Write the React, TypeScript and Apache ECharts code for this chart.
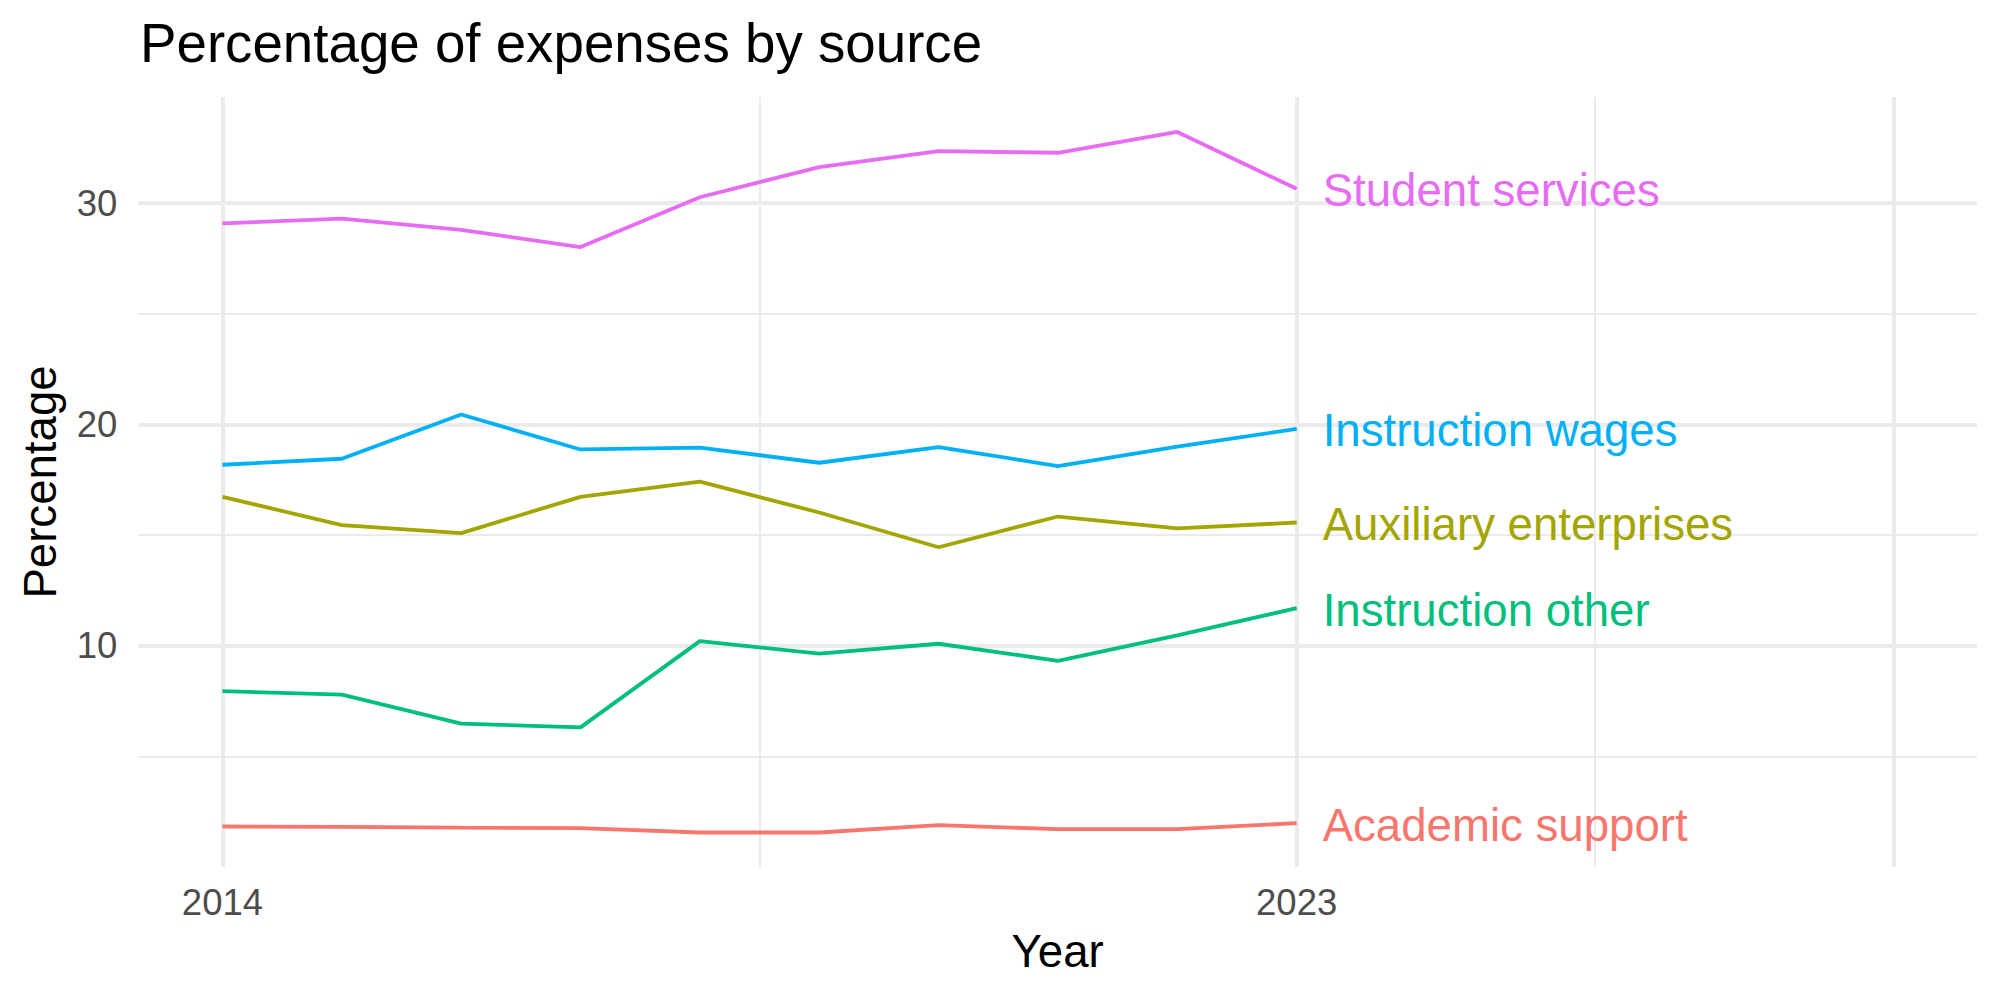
import React, { useEffect, useRef } from "react";
import * as echarts from "echarts";

const years = [2014, 2015, 2016, 2017, 2018, 2019, 2020, 2021, 2022, 2023];
const academicSupport = [1.83, 1.81, 1.78, 1.76, 1.56, 1.56, 1.89, 1.71, 1.71, 1.98];
const auxiliaryEnterprises = [16.73, 15.45, 15.09, 16.73, 17.42, 16.02, 14.45, 15.84, 15.3, 15.57];
const instructionOther = [7.95, 7.79, 6.48, 6.31, 10.21, 9.64, 10.09, 9.32, 10.47, 11.7];
const instructionWages = [18.18, 18.45, 20.45, 18.87, 18.95, 18.27, 18.98, 18.12, 19.0, 19.8];
const studentServices = [29.09, 29.3, 28.79, 28.02, 30.27, 31.63, 32.35, 32.28, 33.22, 30.65];

const seriesNames = ["Academic support", "Auxiliary enterprises", "Instruction other", "Instruction wages", "Student services"];
const seriesValues = [academicSupport, auxiliaryEnterprises, instructionOther, instructionWages, studentServices];
const seriesColors = ["#F8766D", "#A3A500", "#00BF7D", "#00B0F6", "#E76BF3"];

const xTickLabels = [2014, 2023];
const yTickLabels = [10, 20, 30];
const xMajorGrid = [2014, 2023, 2028];
const xMinorGrid = [2018.5, 2025.5];
const yMajorGrid = [10, 20, 30];
const yMinorGrid = [5, 15, 25];

const FONT = "Liberation Sans, Arial, Helvetica, sans-serif";

export default function App() {
  const ref = useRef<HTMLDivElement>(null);
  useEffect(() => {
    if (!ref.current) return;
    const chart = echarts.init(ref.current, null, { renderer: "svg" });
    const gridColor = "#EBEBEB";
    const gridLines: any[] = [];
    xMinorGrid.forEach((v) => gridLines.push({ xAxis: v, lineStyle: { width: 2, color: gridColor, type: "solid" } }));
    yMinorGrid.forEach((v) => gridLines.push({ yAxis: v, lineStyle: { width: 2, color: gridColor, type: "solid" } }));
    xMajorGrid.forEach((v) => gridLines.push({ xAxis: v, lineStyle: { width: 4, color: gridColor, type: "solid" } }));
    yMajorGrid.forEach((v) => gridLines.push({ yAxis: v, lineStyle: { width: 4, color: gridColor, type: "solid" } }));

    const series: any[] = [
      {
        type: "line",
        name: "grid",
        data: [],
        z: 0,
        silent: true,
        markLine: {
          z: 0,
          silent: true,
          symbol: ["none", "none"],
          label: { show: false },
          animation: false,
          data: gridLines,
        },
      },
    ];
    seriesNames.forEach((name, i) => {
      series.push({
        type: "line",
        name,
        z: 3,
        data: years.map((y, j) => [y, seriesValues[i][j]]),
        showSymbol: false,
        symbol: "none",
        lineStyle: { color: seriesColors[i], width: 3.8 },
        itemStyle: { color: seriesColors[i] },
        endLabel: {
          show: true,
          formatter: "{a}",
          color: seriesColors[i],
          fontSize: 45.6,
          fontFamily: FONT,
          distance: 26,
          offset: [0, 2],
        },
      });
    });

    chart.setOption({
      animation: false,
      backgroundColor: "#ffffff",
      title: {
        text: "Percentage of expenses by source",
        left: 140,
        top: 15,
        padding: 0,
        textStyle: { fontSize: 54.7, fontWeight: "normal", color: "#000000", fontFamily: FONT },
      },
      grid: { left: 138.3, right: 23, top: 97, bottom: 133, containLabel: false },
      xAxis: {
        type: "value",
        min: 2013.295,
        max: 2028.7,
        name: "Year",
        nameLocation: "middle",
        nameGap: 61,
        nameTextStyle: { fontSize: 45.6, color: "#000000", fontFamily: FONT },
        axisLine: { show: false },
        axisTick: { show: false },
        splitLine: { show: false },
        axisLabel: {
          customValues: xTickLabels,
          formatter: (v: number) => String(v),
          fontSize: 36.5,
          color: "#4D4D4D",
          fontFamily: FONT,
          margin: 17,
        },
      },
      yAxis: {
        type: "value",
        min: 0,
        max: 34.8,
        interval: 5,
        name: "Percentage",
        nameLocation: "middle",
        nameGap: 75,
        nameTextStyle: { fontSize: 45.6, color: "#000000", fontFamily: FONT },
        axisLine: { show: false },
        axisTick: { show: false },
        splitLine: { show: false },
        axisLabel: {
          formatter: (v: number) => (yTickLabels.includes(v) ? String(v) : ""),
          fontSize: 36.5,
          color: "#4D4D4D",
          fontFamily: FONT,
          margin: 21,
          showMaxLabel: false,
        },
      },
      series,
    });
    return () => chart.dispose();
  }, []);
  return <div ref={ref} style={{ position: "fixed", left: 0, top: 0, width: 2000, height: 1000 }} />;
}
